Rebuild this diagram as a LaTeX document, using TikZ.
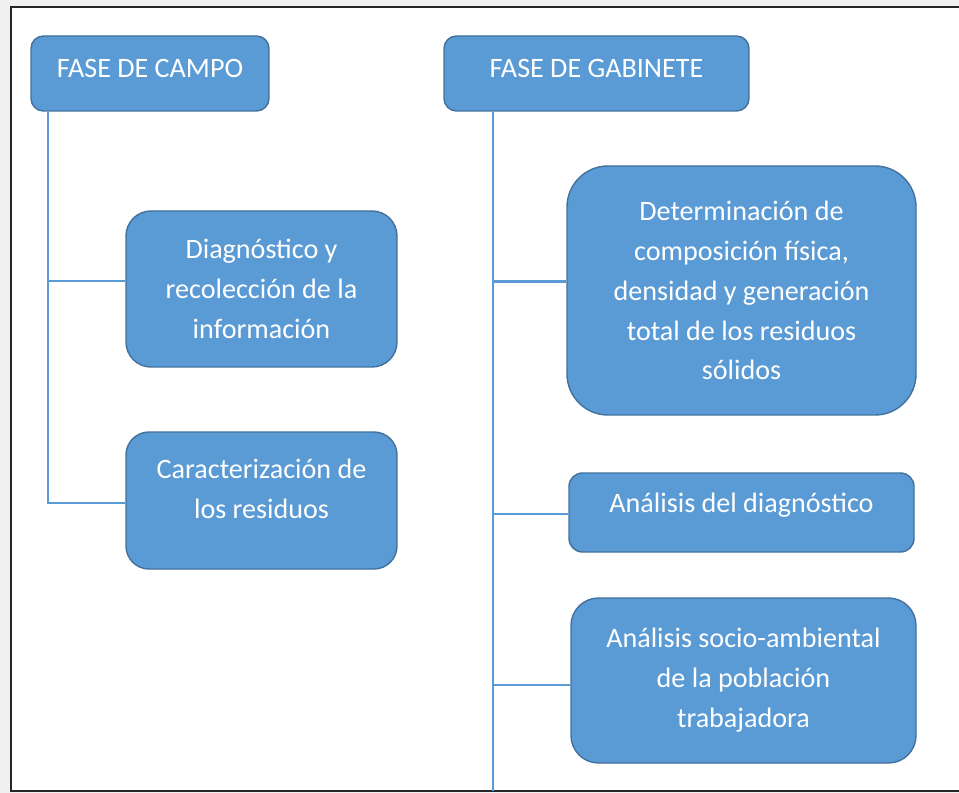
\documentclass[tikz,border=0pt]{standalone}
\usepackage{fontspec}
\setmainfont{Carlito}
\usepackage{tikz}

\definecolor{azul}{RGB}{91,155,213}
\definecolor{azulborde}{RGB}{65,113,156}
\newcommand{\subir}[2]{\raisebox{#1}[\height][\depth]{\begin{tabular}{@{}c@{}}#2\end{tabular}}}

\tikzset{
  caja/.style={rectangle,fill=azul,draw=azulborde,thick,align=center,text=white,
    font=\fontsize{16pt}{22.7pt}\selectfont,inner sep=0pt},
  linea/.style={azul,line width=1.3pt}
}

\begin{document}
\begin{tikzpicture}
\useasboundingbox (0,0) rectangle (19.18,-15.86);
\fill[black!6] (0,0) rectangle (19.18,-15.86);
\fill[white] (0.22,-0.14) rectangle (19.18,-15.82);
\draw[black!85,line width=0.9pt] (19.18,-0.14)--(0.22,-0.14)--(0.22,-15.82)--(19.18,-15.82);
%fases
\path (3.0,-1.47) node(a)[caja,minimum width=4.76cm,minimum height=1.5cm,rounded corners=0.25cm]{\subir{0.07cm}{FASE DE CAMPO}}
(11.93,-1.47) node(b)[caja,minimum width=6.1cm,minimum height=1.5cm,rounded corners=0.25cm]{\subir{0.07cm}{FASE DE GABINETE}}
%campo
(5.23,-5.78) node(c)[caja,minimum width=5.42cm,minimum height=3.12cm,rounded corners=0.5cm]{Diagnóstico y\\ recolección de la\\ información}
(5.23,-10.01) node(d)[caja,minimum width=5.42cm,minimum height=2.74cm,rounded corners=0.46cm]{\subir{0.2cm}{Caracterización de\\ los residuos}}
%gabinete
(14.83,-5.81) node(e)[caja,minimum width=6.98cm,minimum height=4.98cm,rounded corners=0.82cm]{Determinación de\\ composición física,\\ densidad y generación\\ total de los residuos\\ sólidos}
(14.83,-10.25) node(f)[caja,minimum width=6.9cm,minimum height=1.58cm,rounded corners=0.27cm]{\subir{0.15cm}{Análisis del diagnóstico}}
(14.87,-13.61) node(g)[caja,minimum width=6.9cm,minimum height=3.3cm,rounded corners=0.55cm]{Análisis socio-ambiental\\ de la población\\ trabajadora};
%puntos de llegada
\coordinate (cc) at ([yshift=0.16cm]c.west);
\coordinate (cd) at ([yshift=-0.05cm]d.west);
\coordinate (ce) at ([yshift=0.18cm]e.west);
\coordinate (cf) at ([yshift=-0.03cm]f.west);
\coordinate (cg) at ([yshift=-0.09cm]g.west);
\coordinate (p) at (9.86,-15.82);
\draw[linea](a.south -| 0.96,0)|-(cc);
\draw[linea](a.south -| 0.96,0)|-(cd);
\draw[linea](b.south -| 9.86,0)--(p);
\draw[linea](9.86,0 |- ce)--(ce);
\draw[linea](9.86,0 |- cf)--(cf);
\draw[linea](9.86,0 |- cg)--(cg);

\end{tikzpicture}
\end{document}
